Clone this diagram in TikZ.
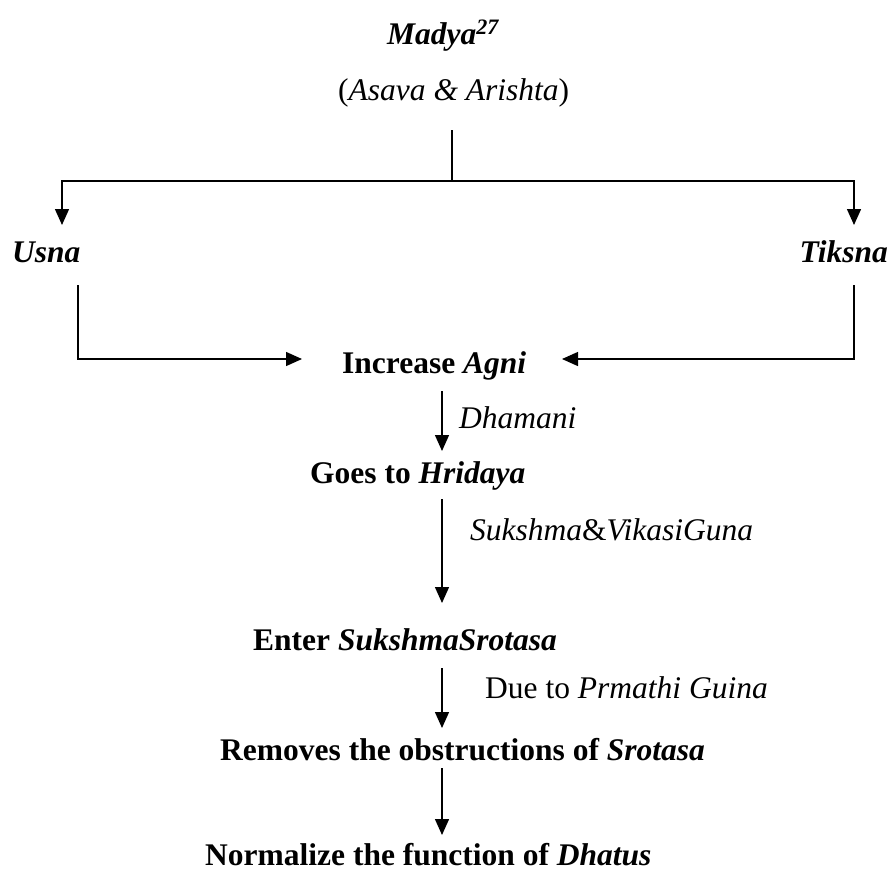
\documentclass[tikz,border=0pt]{standalone}
\usepackage{fontspec}
\setmainfont{Liberation Serif}
\usetikzlibrary{arrows.meta}
\begin{document}
\begin{tikzpicture}[x=1pt,y=-1pt,
  txt/.style={inner sep=0pt,anchor=base west,font=\fontsize{31.5}{36}\selectfont},
  ln/.style={line width=1.4pt},
  arr/.style={line width=1.4pt,-{Triangle[length=16pt,width=14pt]}}]
\useasboundingbox (0,0) rectangle (891,871);
\node[txt] (madya) at (387,44) {\textbf{\textit{Madya}}\textsuperscript{\textbf{\textit{27}}}};
\node[txt] (asava) at (338,100) {(\textit{Asava \& Arishta})};
\node[txt] (usna) at (12,262) {\textbf{\textit{Usna}}};
\node[txt,anchor=base east] (tiksna) at (888,262) {\textbf{\textit{Tiksna}}};
\node[txt] (agni) at (342,373) {\textbf{Increase \textit{Agni}}};
\node[txt] (dhamani) at (459,428) {\textit{Dhamani}};
\node[txt] (hridaya) at (310,483) {\textbf{Goes to \textit{Hridaya}}};
\node[txt] (guna) at (470,540) {\textit{Sukshma}\&\textit{VikasiGuna}};
\node[txt] (enter) at (253,650) {\textbf{Enter \textit{SukshmaSrotasa}}};
\node[txt,anchor=base east] (due) at (768,698) {Due to \textit{Prmathi Guina}};
\node[txt] (removes) at (220,760) {\textbf{Removes the obstructions of \textit{Srotasa}}};
\node[txt] (normalize) at (205,865) {\textbf{Normalize the function of \textit{Dhatus}}};
% split
\coordinate (stem) at (452,130);
\coordinate (split) at (452,181);
\coordinate (usnain) at (62,225);
\coordinate (tiksnain) at (854,225);
\coordinate (usnaout) at (78,285);
\coordinate (tiksnaout) at (854,285);
\coordinate (agniL) at (302,359);
\coordinate (agniR) at (562,359);
\draw[ln] (stem) -- (split);
\draw[arr] (split) -| (usnain);
\draw[arr] (split) -| (tiksnain);
\draw[arr] (usnaout) |- (agniL);
\draw[arr] (tiksnaout) |- (agniR);
\coordinate (a1s) at (442,391); \coordinate (a1e) at (442,451);
\coordinate (a2s) at (442,499); \coordinate (a2e) at (442,603);
\coordinate (a3s) at (442,668); \coordinate (a3e) at (442,728);
\coordinate (a4s) at (442,768); \coordinate (a4e) at (442,835);
\draw[arr] (a1s) -- (a1e);
\draw[arr] (a2s) -- (a2e);
\draw[arr] (a3s) -- (a3e);
\draw[arr] (a4s) -- (a4e);
\end{tikzpicture}
\end{document}
